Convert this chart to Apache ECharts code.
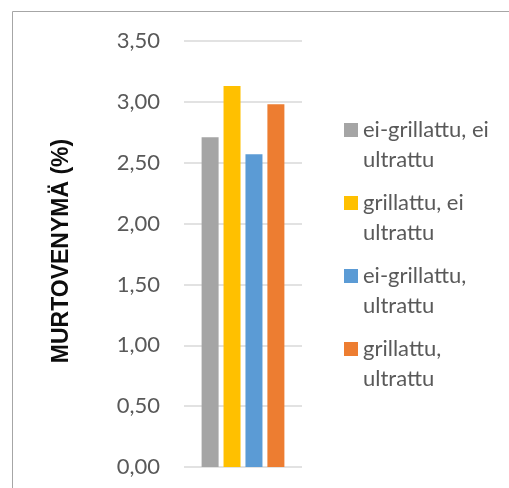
<!DOCTYPE html>
<html>
<head>
<meta charset="utf-8">
<script src="https://cdn.jsdelivr.net/npm/echarts@6/dist/echarts.min.js"></script>
<style>
  html, body { margin: 0; padding: 0; background: #fff; }
  #main { width: 509px; height: 488px; }
</style>
</head>
<body>
<div id="main"></div>
<script>
// data
var seriesNames = ['ei-grillattu, ei\nultrattu', 'grillattu, ei\nultrattu', 'ei-grillattu,\nultrattu', 'grillattu,\nultrattu']
var seriesValues = [2.71, 3.13, 2.57, 2.98]
var seriesColors = ['#a5a5a5', '#ffc000', '#5b9bd5', '#ed7d31']
var categories = ['']
var yTickLabels = ['0,00', '0,50', '1,00', '1,50', '2,00', '2,50', '3,00', '3,50']
var yStep = 0.5
var yTitle = 'MURTOVENYMÄ (%)'

var myChart = echarts.init(document.getElementById('main'))

myChart.setOption({
  animation: false,
  grid: { left: 184, top: 41, width: 118, height: 426 },
  xAxis: {
    type: 'category',
    data: categories,
    axisLine: { show: false },
    axisTick: { show: false },
    axisLabel: { show: false }
  },
  yAxis: {
    type: 'value',
    min: 0,
    max: yStep * (yTickLabels.length - 1),
    interval: yStep,
    axisLine: { show: false },
    axisTick: { show: false },
    axisLabel: {
      margin: 24,
      fontFamily: 'Lato',
      fontSize: 22,
      color: '#595959',
      formatter: function (v) { return yTickLabels[Math.round(v / yStep)] }
    },
    splitLine: { lineStyle: { color: '#d9d9d9', width: 1.5 } }
  },
  legend: {
    orient: 'vertical',
    left: 344,
    top: 85,
    padding: 0,
    itemWidth: 14,
    itemHeight: 14,
    itemGap: -17,
    icon: 'rect',
    data: seriesNames,
    // empty first line so the icon sits next to the first text line
    formatter: function (name) { return '\n' + name },
    textStyle: {
      fontFamily: 'Lato',
      fontSize: 22,
      lineHeight: 30,
      color: '#595959'
    }
  },
  graphic: [
    {
      type: 'rect',
      shape: { x: 12.5, y: 11.5, width: 700, height: 700 },
      style: { fill: 'none', stroke: '#a6a6a6', lineWidth: 1 },
      silent: true
    },
    {
      type: 'text',
      x: 62,
      y: 251,
      rotation: Math.PI / 2,
      style: {
        text: yTitle,
        fontFamily: 'Liberation Sans',
        fontWeight: 'bold',
        fontSize: 23,
        fill: '#0d0d0d',
        align: 'center',
        verticalAlign: 'middle'
      }
    }
  ],
  series: seriesNames.map(function (name, i) {
    return {
      name: name,
      type: 'bar',
      barWidth: 17,
      barGap: '29%',
      itemStyle: { color: seriesColors[i] },
      data: [seriesValues[i]]
    }
  })
})
</script>
</body>
</html>
